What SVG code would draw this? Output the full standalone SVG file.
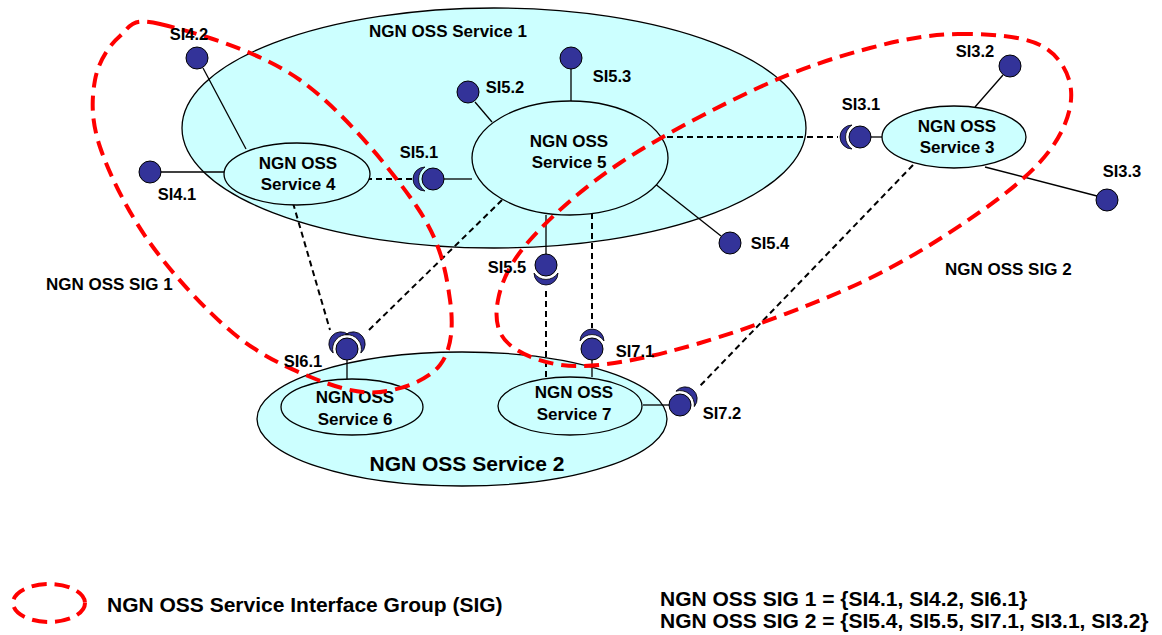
<svg xmlns="http://www.w3.org/2000/svg" xmlns:xlink="http://www.w3.org/1999/xlink" width="1162" height="635" viewBox="0 0 1162 635">
<style>
.svc{fill:#CCFFFF;stroke:#000;stroke-width:1.3}
.ball{fill:#333399;stroke:#000;stroke-width:1}
.sock{fill:#333399;stroke:#000;stroke-width:0.8}
.ln{stroke:#000;stroke-width:1.3;fill:none}
.dl{stroke:#000;stroke-width:2;fill:none;stroke-dasharray:6 4}
.sig{stroke:#FF0000;stroke-width:4;fill:none;stroke-dasharray:15 8}
.t{font-family:"Liberation Sans",Arial,sans-serif;font-weight:bold;font-size:17px;fill:#000}
.s{font-family:"Liberation Sans",Arial,sans-serif;font-weight:bold;font-size:16.5px;fill:#000}
.b{font-family:"Liberation Sans",Arial,sans-serif;font-weight:bold;font-size:21px;fill:#000}
</style>
<defs>
<path id="sk" class="sock" d="M -8,-12 A 14.4 14.4 0 0 0 -8,12 A 12 12 0 0 1 -8,-12 Z"/>
</defs>

<g id="service1">
<ellipse class="svc" cx="494" cy="128" rx="312" ry="120"/>
<text class="t" x="448" y="37" text-anchor="middle">NGN OSS Service 1</text>
</g>
<g id="service2">
<ellipse class="svc" cx="462" cy="419" rx="205" ry="67"/>
<text class="b" x="467" y="471" text-anchor="middle">NGN OSS Service 2</text>
</g>

<g id="connectors">
<line class="ln" x1="203" y1="68" x2="246" y2="149"/>
<line class="ln" x1="161" y1="172" x2="224" y2="172"/>
<line class="dl" x1="366" y1="179" x2="412" y2="179"/>
<line class="ln" x1="444" y1="179" x2="472" y2="179"/>
<line class="ln" x1="475" y1="102" x2="492" y2="122"/>
<line class="ln" x1="571" y1="69" x2="571" y2="101"/>
<line class="ln" x1="654" y1="183" x2="721" y2="236"/>
<line class="dl" x1="667" y1="137" x2="838" y2="137"/>
<line class="ln" x1="871" y1="137" x2="882" y2="137"/>
<line class="ln" x1="975" y1="107" x2="1003" y2="75"/>
<line class="ln" x1="985" y1="167" x2="1097" y2="196"/>
<line class="ln" x1="546" y1="215" x2="546" y2="254"/>
<line class="dl" x1="546" y1="291" x2="546" y2="378"/>
<line class="dl" x1="592" y1="213" x2="592" y2="328"/>
<line class="ln" x1="592" y1="360" x2="592" y2="377"/>
<line class="dl" x1="293" y1="203" x2="330" y2="330"/>
<line class="dl" x1="502" y1="200" x2="368" y2="331"/>
<line class="ln" x1="347" y1="360" x2="347" y2="379"/>
<line class="ln" x1="643" y1="405" x2="669" y2="405"/>
<line class="dl" x1="913" y1="165" x2="699" y2="387"/>
</g>

<g id="service4">
<ellipse class="svc" cx="297" cy="174" rx="73" ry="31"/>
<text class="t" x="298" y="169" text-anchor="middle">NGN OSS</text>
<text class="t" x="298" y="190" text-anchor="middle">Service 4</text>
</g>
<g id="service5">
<ellipse class="svc" cx="570" cy="158" rx="98" ry="57"/>
<text class="t" x="569" y="147" text-anchor="middle">NGN OSS</text>
<text class="t" x="569" y="168" text-anchor="middle">Service 5</text>
</g>
<g id="service3">
<ellipse class="svc" cx="954" cy="137" rx="72" ry="31"/>
<text class="t" x="957" y="132" text-anchor="middle">NGN OSS</text>
<text class="t" x="957" y="153" text-anchor="middle">Service 3</text>
</g>
<g id="service6">
<ellipse class="svc" cx="352" cy="407" rx="71" ry="28"/>
<text class="t" x="355" y="403" text-anchor="middle">NGN OSS</text>
<text class="t" x="355" y="425" text-anchor="middle">Service 6</text>
</g>
<g id="service7">
<ellipse class="svc" cx="570" cy="406" rx="72" ry="29"/>
<text class="t" x="574" y="398" text-anchor="middle">NGN OSS</text>
<text class="t" x="574" y="420" text-anchor="middle">Service 7</text>
</g>

<g id="sig1">
<path class="sig" d="M 160,24 C 190,31.3 257.2,49.5 300,80 C 342.8,110.5 392,170.3 417,207 C 442,243.7 446.2,273.7 450,300 C 453.8,326.3 451.7,349.7 440,365 C 428.3,380.3 401.2,389.8 380,392 C 358.8,394.2 337.5,387.8 313,378 C 288.5,368.2 260.2,355.5 233,333 C 205.8,310.5 172.2,274 150,243 C 127.8,212 109.2,174.2 100,147 C 90.8,119.8 91.7,98.5 95,80 C 98.3,61.5 109.2,45.3 120,36 C 130.8,26.7 130,16.7 160,24 Z"/>
<text class="t" x="46" y="290">NGN OSS SIG 1</text>
</g>
<g id="sig2">
<path class="sig" d="M 958,34 C 986.3,33.5 1021.2,35.7 1040,45 C 1058.8,54.3 1069.3,72.5 1071,90 C 1072.7,107.5 1065.2,129.7 1050,150 C 1034.8,170.3 1011.7,189.8 980,212 C 948.3,234.2 906.7,261.2 860,283 C 813.3,304.8 746.7,329.2 700,343 C 653.3,356.8 611.7,365.7 580,366 C 548.3,366.3 523.7,356 510,345 C 496.3,334 494.7,317.5 498,300 C 501.3,282.5 509.7,262.8 530,240 C 550.3,217.2 581.7,188.5 620,163 C 658.3,137.5 718.3,106.2 760,87 C 801.7,67.8 837,56.8 870,48 C 903,39.2 929.7,34.5 958,34 Z"/>
<text class="t" x="945" y="275">NGN OSS SIG 2</text>
</g>

<g id="SI4.2"><circle class="ball" cx="197" cy="58" r="11"/><text class="s" x="189" y="40" text-anchor="middle">SI4.2</text></g>
<g id="SI4.1"><circle class="ball" cx="150" cy="172" r="11"/><text class="s" x="177" y="200" text-anchor="middle">SI4.1</text></g>
<g id="SI5.1"><circle class="ball" cx="433" cy="179" r="11"/><use href="#sk" transform="translate(433,179)"/><text class="s" x="419" y="158" text-anchor="middle">SI5.1</text></g>
<g id="SI5.2"><circle class="ball" cx="468" cy="92" r="11"/><text class="s" x="505" y="93" text-anchor="middle">SI5.2</text></g>
<g id="SI5.3"><circle class="ball" cx="571" cy="58" r="11"/><text class="s" x="612" y="82" text-anchor="middle">SI5.3</text></g>
<g id="SI5.4"><circle class="ball" cx="730" cy="243" r="11"/><text class="s" x="770" y="249" text-anchor="middle">SI5.4</text></g>
<g id="SI5.5"><text class="s" x="507" y="273" text-anchor="middle">SI5.5</text><circle class="ball" cx="546" cy="265" r="11"/><use href="#sk" transform="translate(546,265) rotate(-90)"/></g>
<g id="SI3.1"><circle class="ball" cx="860" cy="137" r="11"/><use href="#sk" transform="translate(860,137)"/><text class="s" x="861" y="110" text-anchor="middle">SI3.1</text></g>
<g id="SI3.2"><circle class="ball" cx="1010" cy="66" r="11"/><text class="s" x="975" y="57" text-anchor="middle">SI3.2</text></g>
<g id="SI3.3"><circle class="ball" cx="1107" cy="200" r="11"/><text class="s" x="1122" y="177" text-anchor="middle">SI3.3</text></g>
<g id="SI7.1"><circle class="ball" cx="592" cy="349" r="11"/><use href="#sk" transform="translate(592,349) rotate(90)"/><text class="s" x="635" y="357" text-anchor="middle">SI7.1</text></g>
<g id="SI6.1"><circle class="ball" cx="347" cy="349" r="11"/><use href="#sk" transform="translate(347,349) rotate(40)"/><use href="#sk" transform="translate(347,349) rotate(140)"/><text class="s" x="303" y="367" text-anchor="middle">SI6.1</text></g>
<g id="SI7.2"><circle class="ball" cx="680" cy="405" r="11"/><use href="#sk" transform="translate(680,405) rotate(130)"/><text class="s" x="722" y="419" text-anchor="middle">SI7.2</text></g>

<g id="legend">
<ellipse class="sig" cx="49" cy="603" rx="36" ry="19"/>
<text class="b" x="107" y="612">NGN OSS Service Interface Group (SIG)</text>
<text class="b" x="660" y="606">NGN OSS SIG 1 = {SI4.1, SI4.2, SI6.1}</text>
<text class="b" x="660" y="628">NGN OSS SIG 2 = {SI5.4, SI5.5, SI7.1, SI3.1, SI3.2}</text>
</g>
</svg>
